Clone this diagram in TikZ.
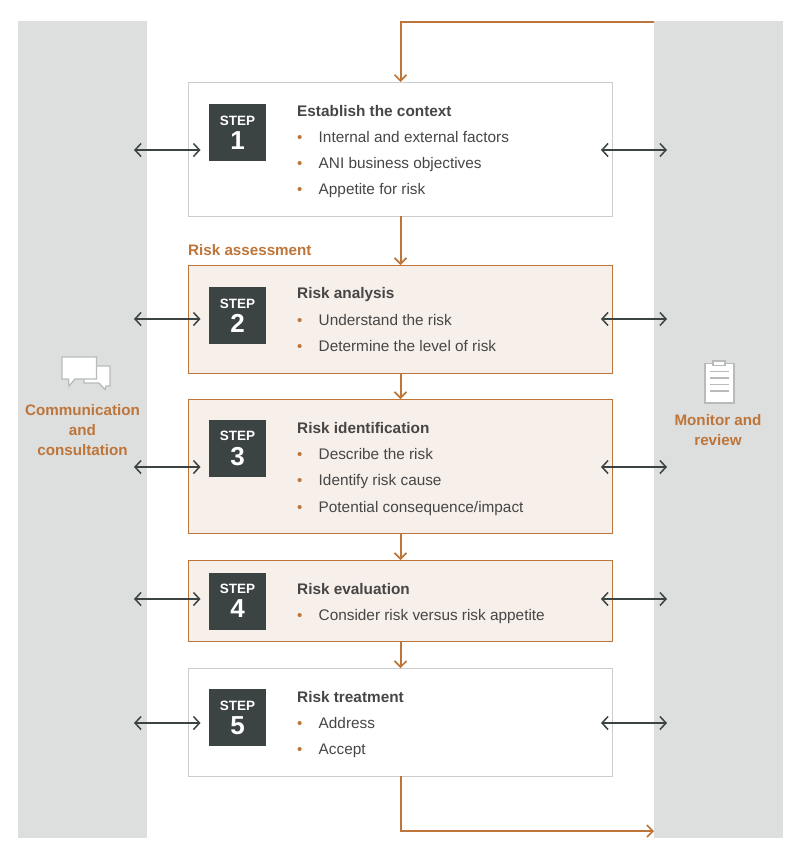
\documentclass[tikz,border=0pt]{standalone}
\usepackage{fontspec}
\setmainfont{Liberation Sans}
\usetikzlibrary{arrows.meta}
\definecolor{orangeb}{HTML}{BE7539}
\definecolor{panelg}{HTML}{DDDEDE}
\definecolor{darkb}{HTML}{3C4343}
\definecolor{txt}{HTML}{464646}
\definecolor{tint}{HTML}{F7EFE9}
\definecolor{greyb}{HTML}{CDCDCD}
\definecolor{icong}{HTML}{B9BBBB}
\tikzset{
 x=1pt,y=-1pt,
 panel/.style={fill=panelg,draw=none,minimum width=129pt,minimum height=817pt,inner sep=0pt},
 plainbox/.style={draw=greyb,line width=1pt,fill=white,minimum width=424pt,inner sep=0pt},
 tintbox/.style={draw=orangeb,line width=0.9pt,fill=tint,minimum width=424pt,inner sep=0pt},
 stepbox/.style={fill=darkb,minimum width=57pt,minimum height=57pt,inner sep=0pt,text=white,align=center,font=\bfseries},
 title/.style={anchor=base west,inner sep=0pt,text=txt,font=\fontsize{15.35}{17}\selectfont\bfseries},
 item/.style={anchor=base west,inner sep=0pt,text=txt,font=\fontsize{15.35}{17}\selectfont},
 dot/.style={anchor=base west,inner sep=0pt,text=orangeb,font=\fontsize{15}{17}\selectfont},
 sidelab/.style={align=center,inner sep=0pt,text=orangeb,font=\fontsize{15.2}{20}\selectfont\bfseries},
 flow/.style={draw=orangeb,line width=2pt,-{Straight Barb[length=6pt,width=12pt,line width=1.6pt]}},
 two/.style={draw=darkb,line width=1.6pt,{Straight Barb[length=6pt,width=13pt,line width=1.5pt]}-{Straight Barb[length=6pt,width=13pt,line width=1.5pt]}},
 icon/.style={draw=icong,line width=1.3pt,fill=white,line join=miter},
 iconline/.style={draw=icong,line width=1.3pt},
}
\newcommand{\stepcontent}[1]{{\fontsize{13.5}{14}\selectfont STEP}\\[5pt]{\fontsize{26}{24}\selectfont #1}}
\begin{document}
\begin{tikzpicture}
\useasboundingbox (0,0) rectangle (804,857);
\fill[white] (0,0) rectangle (804,857);
\node[panel] (lp) at (82.5,429.5) {};
\node[panel] (rp) at (718.5,429.5) {};

\node[plainbox,minimum height=134pt] (b1) at (400,149) {};
\node[tintbox,minimum height=108pt] (b2) at (400,319) {};
\node[tintbox,minimum height=134pt] (b3) at (400,466) {};
\node[tintbox,minimum height=81pt] (b4) at (400,600.5) {};
\node[plainbox,minimum height=108pt] (b5) at (400,722) {};

\node[stepbox] (s1) at (237.5,132.5) {\stepcontent{1}};
\node[stepbox] (s2) at (237.5,315.5) {\stepcontent{2}};
\node[stepbox] (s3) at (237.5,448.5) {\stepcontent{3}};
\node[stepbox] (s4) at (237.5,601) {\stepcontent{4}};
\node[stepbox] (s5) at (237.5,717.5) {\stepcontent{5}};

\node[title] (t1) at (297,116) {Establish the context};
\node[dot] (d1a) at (297,142) {•}; \node[item] (i1a) at (318.5,142) {Internal and external factors};
\node[dot] (d1b) at (297,168) {•}; \node[item] (i1b) at (318.5,168) {ANI business objectives};
\node[dot] (d1c) at (297,194) {•}; \node[item] (i1c) at (318.5,194) {Appetite for risk};

\node[anchor=base west,inner sep=0pt,text=orangeb,font=\fontsize{15.2}{17}\selectfont\bfseries] (ra) at (188,255) {Risk assessment};

\node[title] (t2) at (297,298) {Risk analysis};
\node[dot] (d2a) at (297,325) {•}; \node[item] (i2a) at (318.5,325) {Understand the risk};
\node[dot] (d2b) at (297,351) {•}; \node[item] (i2b) at (318.5,351) {Determine the level of risk};

\node[title] (t3) at (297,433) {Risk identification};
\node[dot] (d3a) at (297,459) {•}; \node[item] (i3a) at (318.5,459) {Describe the risk};
\node[dot] (d3b) at (297,485) {•}; \node[item] (i3b) at (318.5,485) {Identify risk cause};
\node[dot] (d3c) at (297,512) {•}; \node[item] (i3c) at (318.5,512) {Potential consequence/impact};

\node[title] (t4) at (297,594) {Risk evaluation};
\node[dot] (d4a) at (297,620) {•}; \node[item] (i4a) at (318.5,620) {Consider risk versus risk appetite};

\node[title] (t5) at (297,702) {Risk treatment};
\node[dot] (d5a) at (297,728) {•}; \node[item] (i5a) at (318.5,728) {Address};
\node[dot] (d5b) at (297,754) {•}; \node[item] (i5b) at (318.5,754) {Accept};

\node[sidelab] (cl) at (82.5,430) {Communication\\and\\consultation};
\node[sidelab] (ml) at (718,430) {Monitor and\\review};

% flow connectors
\coordinate (topstart) at (654,22);
\coordinate (botend) at (654,831);
\coordinate (b1in) at (400.5,82);
\coordinate (b1out) at (400.5,216);
\coordinate (b2in) at (400.5,265);
\coordinate (b2out) at (400.5,373);
\coordinate (b3in) at (400.5,399);
\coordinate (b3out) at (400.5,533);
\coordinate (b4in) at (400.5,560);
\coordinate (b4out) at (400.5,641);
\coordinate (b5in) at (400.5,668);
\coordinate (b5out) at (400.5,776);
\draw[flow] (topstart) -| (b1in);
\draw[flow] (b1out) -- (b2in);
\draw[flow] (b2out) -- (b3in);
\draw[flow] (b3out) -- (b4in);
\draw[flow] (b4out) -- (b5in);
\draw[flow] (b5out) |- (botend);

% two-way arrows
\foreach \n/\y in {1/150,2/319,3/467,4/599,5/723}{
  \coordinate (la\n) at (134,\y);
  \coordinate (lb\n) at (200.5,\y);
  \coordinate (ra\n) at (601,\y);
  \coordinate (rb\n) at (667,\y);
  \draw[two] (la\n) -- (lb\n);
  \draw[two] (ra\n) -- (rb\n);
}

% speech bubble icon
\draw[icon] (84,366) -- (110,366) -- (110,386) -- (106,386) -- (105,389.5) -- (99,383) -- (84,383) -- cycle;
\draw[icon] (62,357) -- (96.5,357) -- (96.5,379) -- (75,379) -- (69,386) -- (68.5,379) -- (62,379) -- cycle;

% clipboard icon
\draw[icon] (705,363.5) rectangle (734,403);
\draw[icon] (713,361) rectangle (725,365.5);
\draw[iconline] (710,371.5) -- (729,371.5);
\draw[iconline] (710,378) -- (729,378);
\draw[iconline] (710,384.5) -- (729,384.5);
\draw[iconline] (710,391) -- (729,391);
\end{tikzpicture}
\end{document}
